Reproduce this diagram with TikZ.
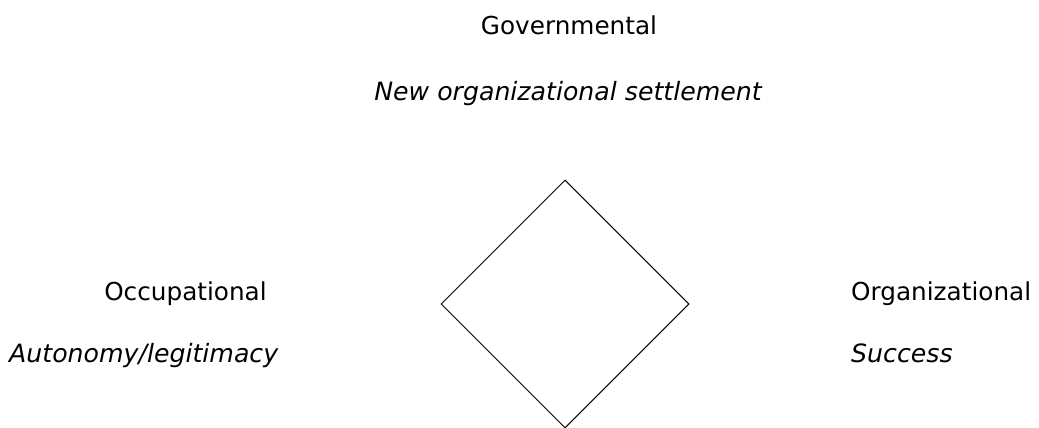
\documentclass[tikz,border=0pt]{standalone}
\usepackage{fontspec}
\setmainfont{DejaVu Sans}
\usepackage{tikz}
\usetikzlibrary{positioning, shapes.geometric}

\tikzset{
	head/.style={inner sep=0pt, anchor=base, font=\fontsize{24.7}{30}\selectfont},
	sub/.style={head, font=\fontsize{25.2}{30}\selectfont\itshape},
}

\begin{document}
\begin{tikzpicture}[x=1pt, y=-1pt]

\useasboundingbox (0,0) rectangle (1039,428);

\node [draw, diamond, line width=1pt, inner sep=0pt, minimum size=248pt] (square) at (565,304) {};

% top corner
\node [head] (gov) at (569,35) {Governmental};
\node [sub] (govsub) at (568,100) {New organizational settlement};

% left corner
\node [head] (occ) at (185.5,300) {Occupational};
\node [sub, anchor=base west] (occsub) at (9,362) {Autonomy/legitimacy};

% right corner
\node [head, anchor=base west] (org) at (851,300) {Organizational};
\node [sub, anchor=base west] (orgsub) at (851,362) {Success};

\end{tikzpicture}
\end{document}
